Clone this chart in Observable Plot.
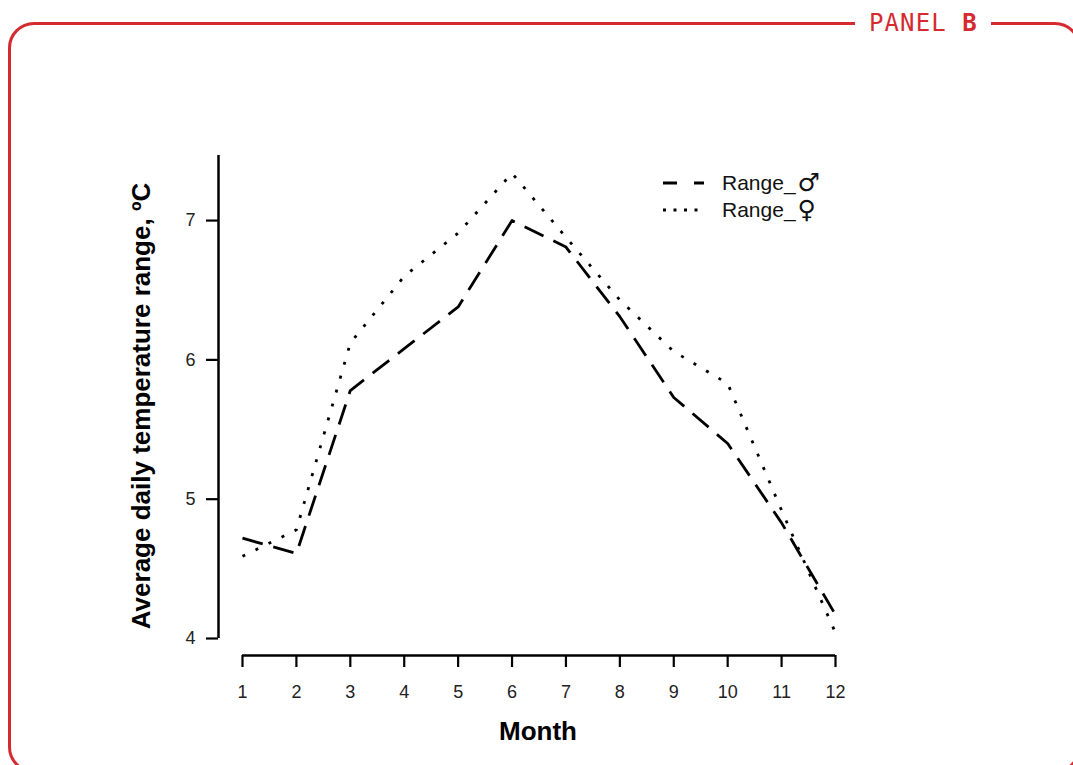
<!DOCTYPE html>
<html>
<head>
<meta charset="utf-8">
<script src="https://cdn.jsdelivr.net/npm/d3@7"></script>
<script src="https://cdn.jsdelivr.net/npm/@observablehq/plot@0.6"></script>
<style>
  html, body { margin: 0; padding: 0; background: #fff; }
  #wrap { position: relative; width: 1073px; height: 765px; overflow: hidden; font-family: "Liberation Sans", Arial, sans-serif; }
  #frame { position: absolute; left: 8px; top: 22px; width: 1073px; height: 751px; box-sizing: border-box;
           border: 3px solid #d42a30; border-radius: 26px; }
  #panel { position: absolute; left: 855px; top: 6px; padding: 0 13px 0 14px; background: #fff;
           font-family: "DejaVu Sans Mono", "Liberation Mono", monospace; font-size: 24px; letter-spacing: 1.1px; color: #d42a30; line-height: 34px; }
  #panel b { font-weight: bold; }
  #chart { position: absolute; left: 0; top: 0; }
  .lbl { position: absolute; color: #000; white-space: nowrap; }
  #xlab { left: 538px; top: 716px; transform: translateX(-50%); font-size: 26px; font-weight: bold; line-height: 30px; }
  #ylab { left: 141px; top: 406px; transform: translate(-50%, -50%) rotate(-90deg); font-size: 26px; font-weight: bold; line-height: 30px; }
  #legend { position: absolute; left: 660px; top: 170px; }
  .lrow { position: absolute; left: 0; height: 26px; white-space: nowrap; }
  .lrow svg { position: absolute; left: 0; top: 0; }
  .lrow span.t { position: absolute; left: 62px; top: 0; font-size: 21px; line-height: 26px; color: #111; }
  .lrow span.s { font-family: "DejaVu Sans", sans-serif; font-size: 25px; line-height: 0; margin-left: 2px; vertical-align: -1px; }
</style>
</head>
<body>
<div id="wrap">
  <div id="frame"></div>
  <div id="panel">PANEL <b>B</b></div>
  <div id="chart"></div>
  <div id="xlab" class="lbl">Month</div>
  <div id="ylab" class="lbl">Average daily temperature range, ºC</div>
  <div id="legend"></div>
</div>
<script>
// ---- data ----
const months = [1, 2, 3, 4, 5, 6, 7, 8, 9, 10, 11, 12];
const rangeMale   = [4.72, 4.61, 5.78, 6.08, 6.38, 7.00, 6.81, 6.31, 5.73, 5.40, 4.83, 4.17];
const rangeFemale = [4.59, 4.78, 6.12, 6.60, 6.91, 7.34, 6.88, 6.43, 6.06, 5.83, 4.92, 4.04];
const yTicks = [4, 5, 6, 7];
const seriesNames = ["Range_♂", "Range_♀"];

const maleData = months.map((m, i) => ({month: m, value: rangeMale[i]}));
const femaleData = months.map((m, i) => ({month: m, value: rangeFemale[i]}));

const dashMale = "21,11";
const dashFemale = "3,11.5";

const W = 1073, H = 765;
const xMin = 0.555, xMax = 12;
const yMin = 3.878, yMax = 7.467;

const chart = Plot.plot({
  width: W,
  height: H,
  marginLeft: 218,
  marginRight: W - 835,
  marginTop: 155,
  marginBottom: H - 655,
  style: {fontFamily: "Liberation Sans, Arial, sans-serif", fontSize: "18px", color: "#000", background: "transparent"},
  x: {domain: [xMin, xMax]},
  y: {domain: [yMin, yMax]},
  marks: [
    Plot.ruleY([yMin], {x1: months[0], x2: months[months.length - 1], stroke: "#000", strokeWidth: 2.5}),
    Plot.ruleX([xMin], {y1: yTicks[0], y2: yMax, stroke: "#000", strokeWidth: 2.5}),
    Plot.axisX({ticks: months, tickSize: 12, tickPadding: 18, tickFormat: d => String(d), label: null, fontSize: 18, strokeWidth: 2.2, fill: "#222"}),
    Plot.axisY({ticks: yTicks, tickSize: 12, tickPadding: 11, tickFormat: d => String(d), label: null, fontSize: 18, strokeWidth: 2.2, fill: "#222"}),
    Plot.line(maleData, {x: "month", y: "value", stroke: "#000", strokeWidth: 2.8, strokeDasharray: dashMale, strokeLinecap: "butt"}),
    Plot.line(femaleData, {x: "month", y: "value", stroke: "#000", strokeWidth: 2.8, strokeDasharray: dashFemale, strokeLinecap: "butt"})
  ]
});
document.getElementById("chart").appendChild(chart);

// legend
const legend = document.getElementById("legend");
const dashes = ["14,17", "3,7.5"];
seriesNames.forEach((name, i) => {
  const row = document.createElement("div");
  row.className = "lrow";
  row.style.top = (i * 27) + "px";
  const base = name.slice(0, -1), sym = name.slice(-1);
  row.innerHTML = `<svg width="48" height="26"><line x1="3" x2="44" y1="13" y2="13" stroke="#000" stroke-width="2.8" stroke-dasharray="${dashes[i]}"/></svg><span class="t">${base}<span class="s">${sym}</span></span>`;
  legend.appendChild(row);
});
</script>
</body>
</html>
